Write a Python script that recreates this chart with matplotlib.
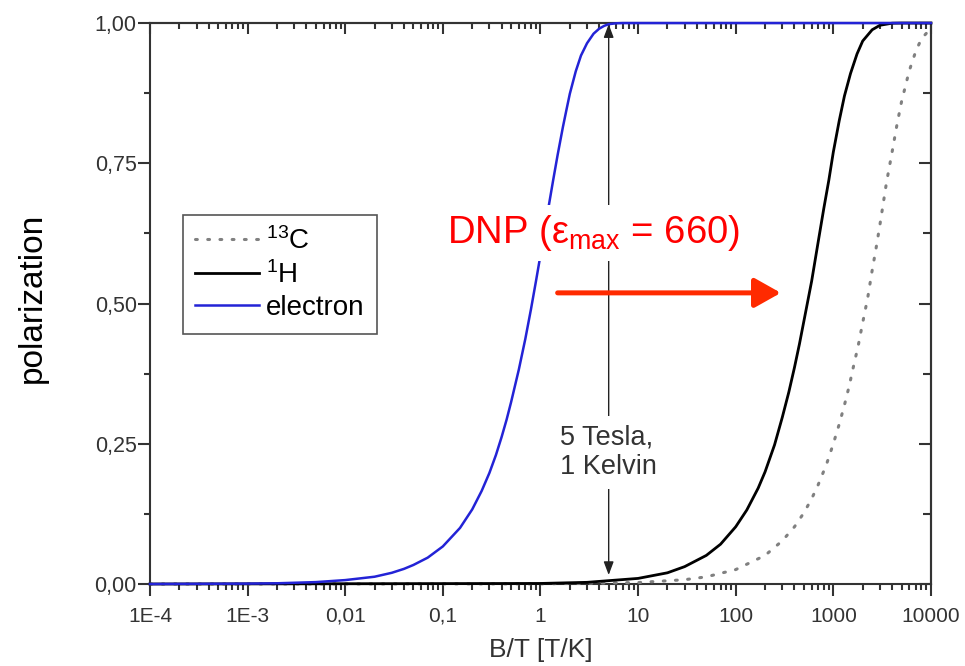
import matplotlib
matplotlib.use('Agg')
import matplotlib.pyplot as plt
from matplotlib.ticker import LogLocator, NullFormatter, FixedLocator
import numpy as np

plt.rcParams['font.family'] = ['Liberation Sans', 'DejaVu Sans']
plt.rcParams['mathtext.default'] = 'regular'

# values
electron_bt = [1e-4, 1e-3, 0.002, 0.005, 0.01, 0.02, 0.03, 0.04, 0.05, 0.07, 0.1, 0.15,
               0.2, 0.25, 0.3, 0.35, 0.4, 0.45, 0.5, 0.6, 0.7, 0.8, 0.9, 1.0, 1.1,
               1.2, 1.35, 1.5, 1.7, 1.85, 2.0, 2.3, 2.6, 3.0, 3.5, 4.0, 4.5, 5.0, 6.0, 7.0, 1e4]
electron_pol = [0.0, 0.0007, 0.0013, 0.0034, 0.007, 0.013, 0.020, 0.027, 0.034, 0.047, 0.067, 0.10,
                0.133, 0.166, 0.198, 0.23, 0.262, 0.293, 0.324, 0.382, 0.437, 0.49, 0.54, 0.586, 0.629,
                0.668, 0.72, 0.765, 0.815, 0.846, 0.874, 0.914, 0.942, 0.964, 0.981, 0.99, 0.995,
                0.998, 0.9996, 1.0, 1.0]

proton_bt = [1e-4, 1.0, 3.0, 10, 20, 30, 50, 70, 100, 130, 170, 200, 250, 300, 350, 400,
             450, 500, 600, 700, 800, 900, 1000, 1150, 1300, 1500, 1750, 2000, 2500,
             3000, 4000, 5000, 1e4]
proton_pol = [0.0, 0.001, 0.003, 0.010, 0.020, 0.031, 0.051, 0.071, 0.102, 0.132, 0.171, 0.20,
              0.248, 0.297, 0.342, 0.386, 0.428, 0.469, 0.54, 0.61, 0.67, 0.72, 0.77, 0.826,
              0.87, 0.91, 0.945, 0.968, 0.988, 0.996, 0.9997, 1.0, 1.0]

carbon_bt = [1e-4, 1.0, 10, 30, 50, 100, 200, 300, 400, 500, 600, 700, 850, 1000, 1150,
             1300, 1450, 1600, 1800, 2000, 2250, 2500, 2750, 3000, 3500, 4000, 4500,
             5000, 6000, 7000, 8000, 9000, 1e4]
carbon_pol = [0.0, 0.0003, 0.0026, 0.0077, 0.0128, 0.0257, 0.051, 0.077, 0.102, 0.127, 0.152,
              0.177, 0.213, 0.25, 0.285, 0.319, 0.352, 0.386, 0.425, 0.466, 0.51, 0.559, 0.60,
              0.64, 0.715, 0.77, 0.82, 0.86, 0.915, 0.95, 0.972, 0.982, 0.987]

xticks = [1e-4, 1e-3, 1e-2, 1e-1, 1, 10, 100, 1000, 10000]
xticklabels = ['1E-4', '1E-3', '0,01', '0,1', '1', '10', '100', '1000', '10000']
yticks = [0, 0.25, 0.5, 0.75, 1.0]
yticklabels = ['0,00', '0,25', '0,50', '0,75', '1,00']

fig = plt.figure(figsize=(9.65, 6.66), dpi=100)
ax = fig.add_axes([0.1554, 0.1231, 0.8093, 0.8423])

ax.plot(carbon_bt, carbon_pol, color='#808080', lw=2.2, ls=(0, (0.6, 3.4)),
        dash_capstyle='round', label='$^{13}$C', zorder=3, clip_on=False)
ax.plot(proton_bt, proton_pol, color='black', lw=2.0, label='$^{1}$H', zorder=3, clip_on=False)
ax.plot(electron_bt, electron_pol, color='#2323d6', lw=1.8, label='electron', zorder=3, clip_on=False)

ax.set_xscale('log')
ax.set_xlim(1e-4, 1e4)
ax.set_ylim(0, 1)

spine_col = '#333333'
for s in ax.spines.values():
    s.set_color(spine_col)
    s.set_linewidth(1.5)

ax.set_xticks(xticks, labels=xticklabels)
ax.xaxis.set_minor_locator(LogLocator(base=10, subs=np.arange(2, 10), numticks=20))
ax.xaxis.set_minor_formatter(NullFormatter())
ax.set_yticks(yticks, labels=yticklabels)
ax.yaxis.set_minor_locator(FixedLocator([0.125, 0.375, 0.625, 0.875]))
ax.tick_params(which='both', direction='out', colors=spine_col, width=1.5,
               labelcolor='#333333')
ax.tick_params(which='major', length=8.5)
ax.tick_params(which='minor', length=4.5)
ax.tick_params(axis='x', pad=8, labelsize=15)
ax.tick_params(axis='y', pad=1, labelsize=15.5)

# mirrored ticks on top and right, pointing inward
top = ax.secondary_xaxis('top')
top.set_xticks(xticks, labels=[])
top.xaxis.set_minor_locator(LogLocator(base=10, subs=np.arange(2, 10), numticks=20))
top.xaxis.set_minor_formatter(NullFormatter())
top.tick_params(which='both', direction='in', colors=spine_col, width=1.5)
top.tick_params(which='major', length=8)
top.tick_params(which='minor', length=4.5)
top.spines['top'].set_linewidth(1.5)
top.spines['top'].set_color(spine_col)

right = ax.secondary_yaxis('right')
right.set_yticks(yticks, labels=[])
right.yaxis.set_minor_locator(FixedLocator([0.125, 0.375, 0.625, 0.875]))
right.tick_params(which='both', direction='in', colors=spine_col, width=1.5)
right.tick_params(which='major', length=8.5)
right.tick_params(which='minor', length=5.5)
right.spines['right'].set_linewidth(1.5)
right.spines['right'].set_color(spine_col)

ax.set_xlabel('B/T [T/K]', fontsize=19, color='#333333', labelpad=9)
fig.text(0.033, 0.552, 'polarization', rotation=90, fontsize=24, color='black',
         ha='center', va='center')

leg = ax.legend(loc='upper left', bbox_to_anchor=(0.0423, 0.658), borderaxespad=0,
                fontsize=20, frameon=True, fancybox=False, framealpha=1,
                handlelength=2.3, handletextpad=0.25, labelspacing=0.22, borderpad=0.45)
leg.get_frame().set_edgecolor('#555555')
leg.get_frame().set_linewidth(1.2)

# 5 T / 1 K marker
ax.annotate('', xy=(5, 0.998), xytext=(5, 0.016),
            arrowprops=dict(arrowstyle='<|-|>,head_length=0.8,head_width=0.3',
                            color='#222222', lw=1.0, shrinkA=0, shrinkB=0), zorder=2)
ax.text(5, 0.235, '5 Tesla,\n1 Kelvin', fontsize=19.5, color='#333333', ha='center',
        va='center', multialignment='left', linespacing=1.2,
        bbox=dict(facecolor='white', edgecolor='none', pad=6), zorder=4)

# DNP arrow
ax.annotate('', xy=(290, 0.519), xytext=(1.5, 0.519),
            arrowprops=dict(arrowstyle='-|>,head_length=1.6,head_width=0.9',
                            color='#ff2a00', lw=3.6, shrinkA=0, shrinkB=0), zorder=5)
ax.text(0.11, 0.608, 'DNP (ε$_{max}$ = 660)', fontsize=27.5, color='#ff0000',
        ha='left', va='baseline',
        bbox=dict(facecolor='white', edgecolor='none', pad=6), zorder=4)

fig.savefig('out.png', dpi=100)
